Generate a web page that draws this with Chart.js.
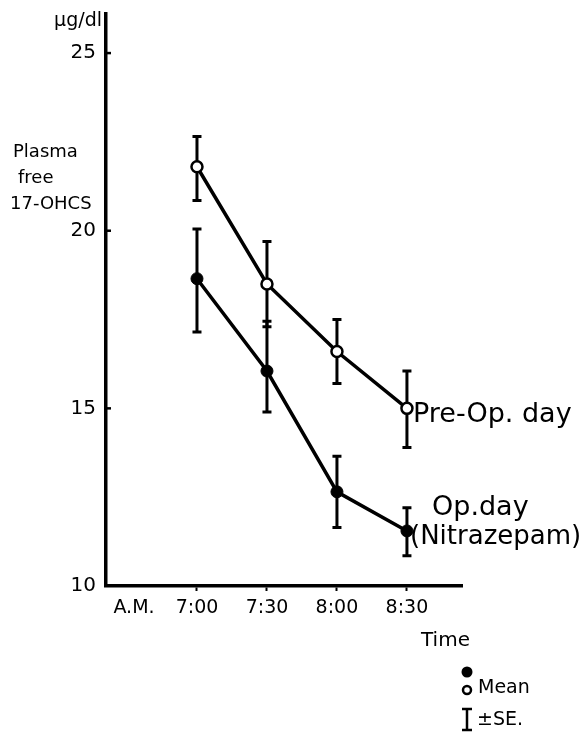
<!DOCTYPE html>
<html>
<head>
<meta charset="utf-8">
<script src="https://cdn.jsdelivr.net/npm/chart.js@4.4.1/dist/chart.umd.min.js"></script>
<style>
  html, body { margin: 0; padding: 0; background: #fff; }
</style>
</head>
<body>
<canvas id="chart" width="588" height="733"></canvas>
<script>
'use strict';

// minutes after 7:00 A.M.
const minutes = [0, 30, 60, 90];
const timeLabels = ['7:00', '7:30', '8:00', '8:30'];
const amTick = -27;
const yTicks = [10, 15, 20, 25];

const preOpMean = [21.8, 18.5, 16.6, 15.0];
const preOpUpper = [22.65, 19.7, 17.5, 16.05];
const preOpLower = [20.85, 17.3, 15.7, 13.9];

const opMean = [18.65, 16.05, 12.65, 11.55];
const opUpper = [20.05, 17.45, 13.65, 12.2];
const opLower = [17.15, 14.9, 11.65, 10.85];

const FONT = '"DejaVu Sans", sans-serif';

function toPoints(vals) {
  return vals.map((v, i) => ({ x: minutes[i], y: v }));
}

const errorBars = {
  id: 'errorBars',
  beforeDatasetsDraw(chart) {
    const { ctx, scales: { x, y } } = chart;
    ctx.save();
    ctx.strokeStyle = '#000';
    ctx.lineWidth = 3;
    chart.data.datasets.forEach(ds => {
      ds.data.forEach((p, i) => {
        const px = x.getPixelForValue(p.x);
        const top = y.getPixelForValue(ds.upper[i]);
        const bot = y.getPixelForValue(ds.lower[i]);
        ctx.beginPath();
        ctx.moveTo(px, top);
        ctx.lineTo(px, bot);
        ctx.moveTo(px - 4.5, top);
        ctx.lineTo(px + 4.5, top);
        ctx.moveTo(px - 4.5, bot);
        ctx.lineTo(px + 4.5, bot);
        ctx.stroke();
      });
    });
    ctx.restore();
  }
};

const annotations = {
  id: 'annotations',
  afterDraw(chart) {
    const { ctx, scales: { y } } = chart;
    ctx.save();
    ctx.fillStyle = '#000';
    ctx.strokeStyle = '#000';

    // inward y ticks
    ctx.lineWidth = 2.5;
    yTicks.slice(1).forEach(v => {
      const py = y.getPixelForValue(v);
      ctx.beginPath();
      ctx.moveTo(y.right, py);
      ctx.lineTo(y.right + 5, py);
      ctx.stroke();
    });

    // axis unit and title
    ctx.textBaseline = 'middle';
    ctx.textAlign = 'right';
    ctx.font = '19px ' + FONT;
    ctx.fillText('\u03BCg/dl', 102, 21);

    ctx.textAlign = 'left';
    ctx.font = '18px ' + FONT;
    ctx.fillText('Plasma', 13, 152);
    ctx.fillText('free', 18, 178);
    ctx.fillText('17-OHCS', 10, 204);

    ctx.font = '20px ' + FONT;
    ctx.fillText('Time', 421, 641);

    // series labels
    ctx.textBaseline = 'alphabetic';
    ctx.font = '27px ' + FONT;
    ctx.fillText('Pre-Op. day', 413, 422);
    ctx.fillText('Op.day', 432, 515);
    ctx.font = '26px ' + FONT;
    ctx.fillText('(Nitrazepam)', 410, 544);

    // key
    ctx.beginPath();
    ctx.arc(467, 672, 5.5, 0, Math.PI * 2);
    ctx.fill();
    ctx.beginPath();
    ctx.lineWidth = 2.5;
    ctx.arc(467, 690, 4, 0, Math.PI * 2);
    ctx.stroke();
    ctx.font = '19px ' + FONT;
    ctx.textBaseline = 'middle';
    ctx.fillText('Mean', 478, 688);

    ctx.lineWidth = 2.5;
    ctx.beginPath();
    ctx.moveTo(467, 709);
    ctx.lineTo(467, 730);
    ctx.moveTo(462, 709);
    ctx.lineTo(472, 709);
    ctx.moveTo(462, 730);
    ctx.lineTo(472, 730);
    ctx.stroke();
    ctx.fillText('\u00B1SE.', 477, 720);

    ctx.restore();
  }
};

new Chart(document.getElementById('chart').getContext('2d'), {
  type: 'line',
  data: {
    datasets: [
      {
        label: 'Pre-Op. day',
        data: toPoints(preOpMean),
        upper: preOpUpper,
        lower: preOpLower,
        borderColor: '#000',
        borderWidth: 3.5,
        pointRadius: 5.5,
        pointBorderWidth: 2.5,
        pointBackgroundColor: '#fff',
        pointBorderColor: '#000',
        tension: 0
      },
      {
        label: 'Op.day (Nitrazepam)',
        data: toPoints(opMean),
        upper: opUpper,
        lower: opLower,
        borderColor: '#000',
        borderWidth: 3.5,
        pointRadius: 6,
        pointBorderWidth: 1,
        pointBackgroundColor: '#000',
        pointBorderColor: '#000',
        tension: 0
      }
    ]
  },
  options: {
    responsive: false,
    animation: false,
    layout: { padding: { left: 0, top: 10, right: 126, bottom: 0 } },
    plugins: {
      legend: { display: false },
      tooltip: { enabled: false }
    },
    scales: {
      x: {
        type: 'linear',
        min: -39,
        max: 113.6,
        afterFit: s => { s.height = 147; },
        afterBuildTicks: s => {
          s.ticks = [amTick].concat(minutes).map(v => ({ value: v }));
        },
        border: { display: true, color: '#000', width: 3.5 },
        grid: {
          display: true,
          drawOnChartArea: false,
          drawTicks: true,
          tickLength: 5,
          tickWidth: 2,
          tickColor: c => (c.tick && c.tick.value === amTick ? 'rgba(0,0,0,0)' : '#000')
        },
        ticks: {
          color: '#000',
          padding: 6,
          font: { family: FONT, size: 19 },
          maxRotation: 0,
          autoSkip: false,
          callback: v => (v === amTick ? 'A.M.' : timeLabels[minutes.indexOf(v)])
        }
      },
      y: {
        min: 10,
        max: 26.1,
        afterFit: s => { s.width = 106; },
        afterBuildTicks: s => {
          s.ticks = yTicks.map(v => ({ value: v }));
        },
        border: { display: true, color: '#000', width: 3.5 },
        grid: { display: false },
        ticks: {
          color: '#000',
          padding: 2,
          font: { family: FONT, size: 20 }
        }
      }
    }
  },
  plugins: [errorBars, annotations]
});
</script>
</body>
</html>
